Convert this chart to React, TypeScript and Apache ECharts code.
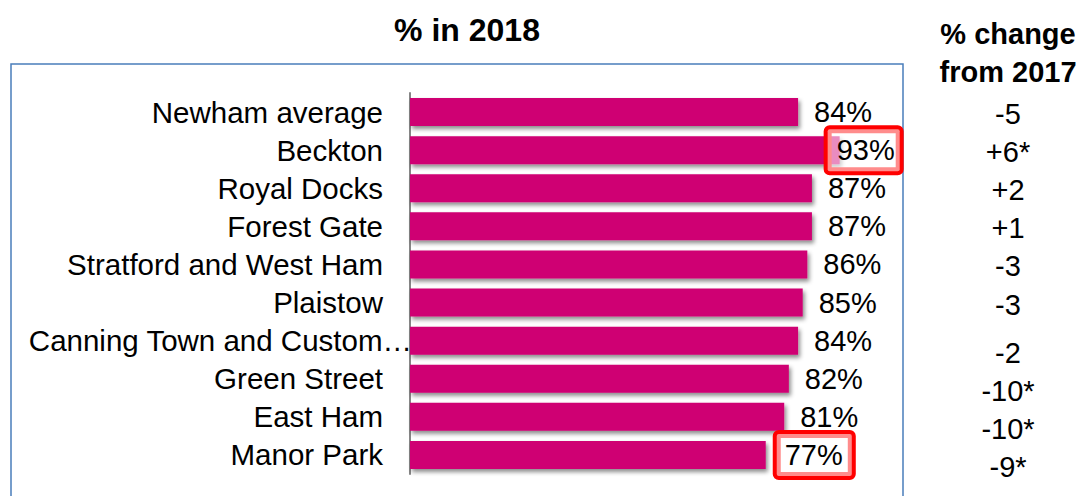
import React, { useEffect, useRef } from "react";
import * as echarts from "echarts";

const categories = [
  "Newham average",
  "Beckton",
  "Royal Docks",
  "Forest Gate",
  "Stratford and West Ham",
  "Plaistow",
  "Canning Town and Custom House",
  "Green Street",
  "East Ham",
  "Manor Park",
];
const values2018 = [84, 93, 87, 87, 86, 85, 84, 82, 81, 77];
const changeFrom2017 = ["-5", "+6*", "+2", "+1", "-3", "-3", "-2", "-10*", "-10*", "-9*"];
const highlighted = ["Beckton", "Manor Park"];
const chartTitle = "% in 2018";
const changeTitleLines = ["% change", "from 2017"];

const FONT = '"Liberation Sans", Arial, sans-serif';
const BAR = "#cf0073";

export default function App() {
  const ref = useRef<HTMLDivElement>(null);

  useEffect(() => {
    if (!ref.current) return;
    const chart = echarts.init(ref.current, undefined, { renderer: "svg" });

    const data = values2018.map((v, i) => {
      const isHi = highlighted.includes(categories[i]);
      if (!isHi) return { value: v };
      const isBeckton = categories[i] === "Beckton";
      return {
        value: v,
        label: {
          offset: isBeckton ? [-28, 0] : [-5, 0],
          borderColor: "#ff0000",
          borderWidth: 4,
          borderRadius: 2,
          backgroundColor: "rgba(255,255,255,0.55)",
          padding: isBeckton ? [7, 5, 6, 9] : [7, 9, 6, 8],
        },
      };
    });

    chart.setOption({
      animation: false,
      textStyle: { fontFamily: FONT },
      grid: { left: 410, right: 209, top: 93, bottom: 22, containLabel: false },
      xAxis: { type: "value", min: 0, max: 100, show: false },
      yAxis: [
        {
          type: "category",
          inverse: true,
          data: categories,
          axisTick: { show: false },
          axisLine: { show: true, lineStyle: { color: "#868686", width: 2 } },
          axisLabel: {
            interval: 0,
            margin: -2,
            color: "#000",
            fontSize: 29.5,
            fontFamily: FONT,
            formatter: (v: string) =>
              v.length > 24 ? `{t|${v.slice(0, 23)}…}` : `{n|${v}}`,
            rich: {
              n: { fontSize: 29.5, fontFamily: FONT, color: "#000", padding: [0, 29, 0, 0] },
              t: { fontSize: 29.5, fontFamily: FONT, color: "#000" },
            },
          },
        },
        {
          type: "category",
          inverse: true,
          position: "right",
          data: changeFrom2017,
          axisTick: { show: false },
          axisLine: { show: false },
          axisLabel: {
            interval: 0,
            margin: 136,
            align: "center",
            color: "#000",
            fontSize: 29,
            fontFamily: FONT,
            formatter: (v: string, i: number) => (i >= 6 ? `{low|${v}}` : `{row|${v}}`),
            rich: {
              row: { fontSize: 29, fontFamily: FONT, color: "#000", padding: [4, 0, 0, 0] },
              low: { fontSize: 29, fontFamily: FONT, color: "#000", padding: [24, 0, 0, 0] },
            },
          },
        },
      ],
      series: [
        {
          type: "bar",
          yAxisIndex: 0,
          barWidth: 28,
          data,
          itemStyle: {
            color: BAR,
            shadowColor: "rgba(0,0,0,0.45)",
            shadowBlur: 4,
            shadowOffsetX: 2,
            shadowOffsetY: 3,
          },
          label: {
            show: true,
            position: "right",
            distance: 16,
            color: "#000",
            fontSize: 29,
            fontFamily: FONT,
            formatter: (p: any) => `${p.value}%`,
          },
        },
      ],
      graphic: [
        {
          type: "rect",
          shape: { x: 11, y: 64, width: 892, height: 520 },
          style: { fill: "none", stroke: "#4a7ebb", lineWidth: 1.5 },
          silent: true,
        },
        {
          type: "text",
          x: 467,
          y: 30,
          style: {
            text: chartTitle,
            font: `bold 32px ${FONT}`,
            fill: "#000",
            align: "center",
            verticalAlign: "middle",
            textAlign: "center",
            textVerticalAlign: "middle",
          },
        },
        ...changeTitleLines.map((t, i) => ({
          type: "text",
          x: 1008,
          y: 34 + i * 38,
          style: {
            text: t,
            font: `bold 29px ${FONT}`,
            fill: "#000",
            align: "center",
            verticalAlign: "middle",
            textAlign: "center",
            textVerticalAlign: "middle",
          },
        })),
      ],
    });

    return () => chart.dispose();
  }, []);

  return (
    <div
      ref={ref}
      style={{ position: "absolute", left: 0, top: 0, width: 1081, height: 496, background: "#fff" }}
    />
  );
}
